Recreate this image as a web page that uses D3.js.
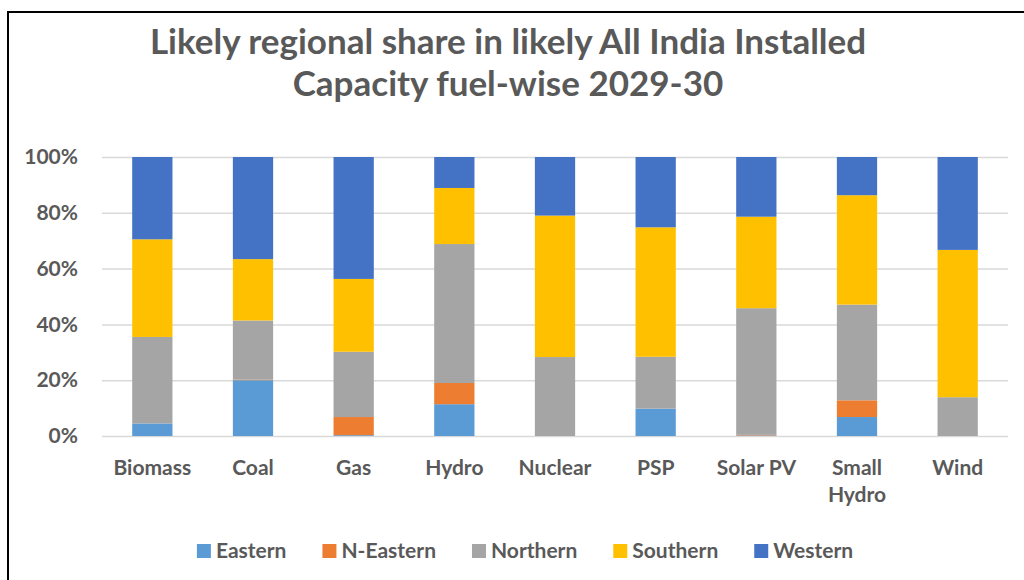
<!doctype html>
<html lang="en">
  <head>
    <meta charset="utf-8">
    <title>Likely regional share - fuel-wise 2029-30</title>
    <script src="https://d3js.org/d3.v7.min.js"></script>
    <style>
      body { margin: 0; background: #fff; }
      svg { display: block; font-family: Lato, "Open Sans", sans-serif; font-weight: bold; }
    </style>
  </head>
  <body>
    <svg width="1024" height="580"></svg>
    <script>
      // chart data (percent share of each fuel by region)
      var categories = ["Biomass", "Coal", "Gas", "Hydro", "Nuclear", "PSP", "Solar PV", "Small Hydro", "Wind"];
      var regions = ["Eastern", "N-Eastern", "Northern", "Southern", "Western"];
      var eastern  = [4.5, 20.0, 0.3, 11.4, 0, 9.8, 0.2, 6.8, 0];
      var nEastern = [0, 0.2, 6.5, 7.6, 0, 0, 0.2, 6.0, 0];
      var northern = [31.0, 21.2, 23.4, 49.8, 28.3, 18.6, 45.4, 34.3, 13.9];
      var southern = [35.0, 22.0, 26.1, 20.1, 50.7, 46.4, 32.8, 39.2, 52.8];
      var western  = [29.5, 36.6, 43.7, 11.1, 21.0, 25.2, 21.4, 13.7, 33.3];
      var yTicks = [0, 0.2, 0.4, 0.6, 0.8, 1];
      var titleLines = ["Likely regional share in likely All India Installed", "Capacity fuel-wise 2029-30"];

      var colors = ["#5b9bd5", "#ed7d31", "#a5a5a5", "#ffc000", "#4472c4"];
      var textColor = "#595959";

      var seriesValues = [eastern, nEastern, northern, southern, western];
      var rows = categories.map(function(c, i) {
        var row = {category: c};
        regions.forEach(function(r, j) { row[r] = seriesValues[j][i]; });
        return row;
      });

      var svg = d3.select("svg");

      // frame of the pasted chart
      svg.append("rect")
          .attr("x", 8).attr("y", 12)
          .attr("width", 1040).attr("height", 620)
          .attr("fill", "#fff")
          .attr("stroke", "#000")
          .attr("stroke-width", 2);

      var x = d3.scaleBand()
          .domain(categories)
          .range([102, 1008])
          .paddingInner(0.6)
          .paddingOuter(0.3);

      var y = d3.scaleLinear()
          .domain([0, 1])
          .range([436, 157]);

      // title
      svg.append("g").selectAll("text")
        .data(titleLines)
        .join("text")
          .attr("x", 508)
          .attr("y", function(d, i) { return 54 + i * 42; })
          .attr("text-anchor", "middle")
          .attr("fill", textColor)
          .attr("font-size", 35)
          .text(function(d) { return d; });

      // y axis with gridlines
      var yAxis = svg.append("g")
          .attr("transform", "translate(102,0)")
          .call(d3.axisLeft(y).tickValues(yTicks).tickFormat(d3.format(".0%")).tickSize(-906).tickPadding(24));
      yAxis.select(".domain").remove();
      yAxis.selectAll(".tick line").attr("stroke", "#d9d9d9").attr("stroke-width", 1.5);
      yAxis.selectAll(".tick text")
          .attr("fill", textColor)
          .attr("font-size", 21)
          .attr("font-family", "Lato, sans-serif")
          .attr("font-weight", "bold");

      // stacked bars
      var stack = d3.stack().keys(regions).offset(d3.stackOffsetExpand);
      var layers = stack(rows);

      svg.append("g").selectAll("g")
        .data(layers)
        .join("g")
          .attr("fill", function(d, i) { return colors[i]; })
        .selectAll("rect")
        .data(function(d) { return d; })
        .join("rect")
          .attr("x", function(d) { return x(d.data.category); })
          .attr("y", function(d) { return y(d[1]); })
          .attr("height", function(d) { return y(d[0]) - y(d[1]); })
          .attr("width", x.bandwidth());

      // x axis labels, long ones wrap onto two lines
      var xAxis = svg.append("g")
          .attr("transform", "translate(0,436)")
          .call(d3.axisBottom(x).tickSize(0).tickPadding(24));
      xAxis.select(".domain").remove();
      xAxis.selectAll(".tick text")
          .attr("fill", textColor)
          .attr("font-size", 21)
          .attr("font-family", "Lato, sans-serif")
          .attr("font-weight", "bold")
          .each(function(d) {
            var t = d3.select(this);
            if (this.getComputedTextLength() > x.step() * 0.95) {
              var words = d.split(" ");
              t.text(null);
              words.forEach(function(w, i) {
                t.append("tspan").attr("x", 0).attr("dy", i === 0 ? "0.71em" : "1.3em").text(w);
              });
              t.attr("dy", null);
            }
          });

      // legend
      var legend = svg.append("g");
      var items = legend.selectAll("g")
        .data(regions)
        .join("g");
      items.append("rect")
          .attr("width", 14).attr("height", 14)
          .attr("y", 544)
          .attr("fill", function(d, i) { return colors[i]; });
      items.append("text")
          .attr("x", 19)
          .attr("y", 558)
          .attr("fill", textColor)
          .attr("font-size", 21)
          .text(function(d) { return d; });
      var gap = 36;
      var offset = 0, positions = [];
      items.each(function() {
        positions.push(offset);
        offset += 19 + d3.select(this).select("text").node().getComputedTextLength() + gap;
      });
      var total = offset - gap;
      var start = 525 - total / 2;
      items.attr("transform", function(d, i) { return "translate(" + (start + positions[i]) + ",0)"; });
    </script>
  </body>
</html>
